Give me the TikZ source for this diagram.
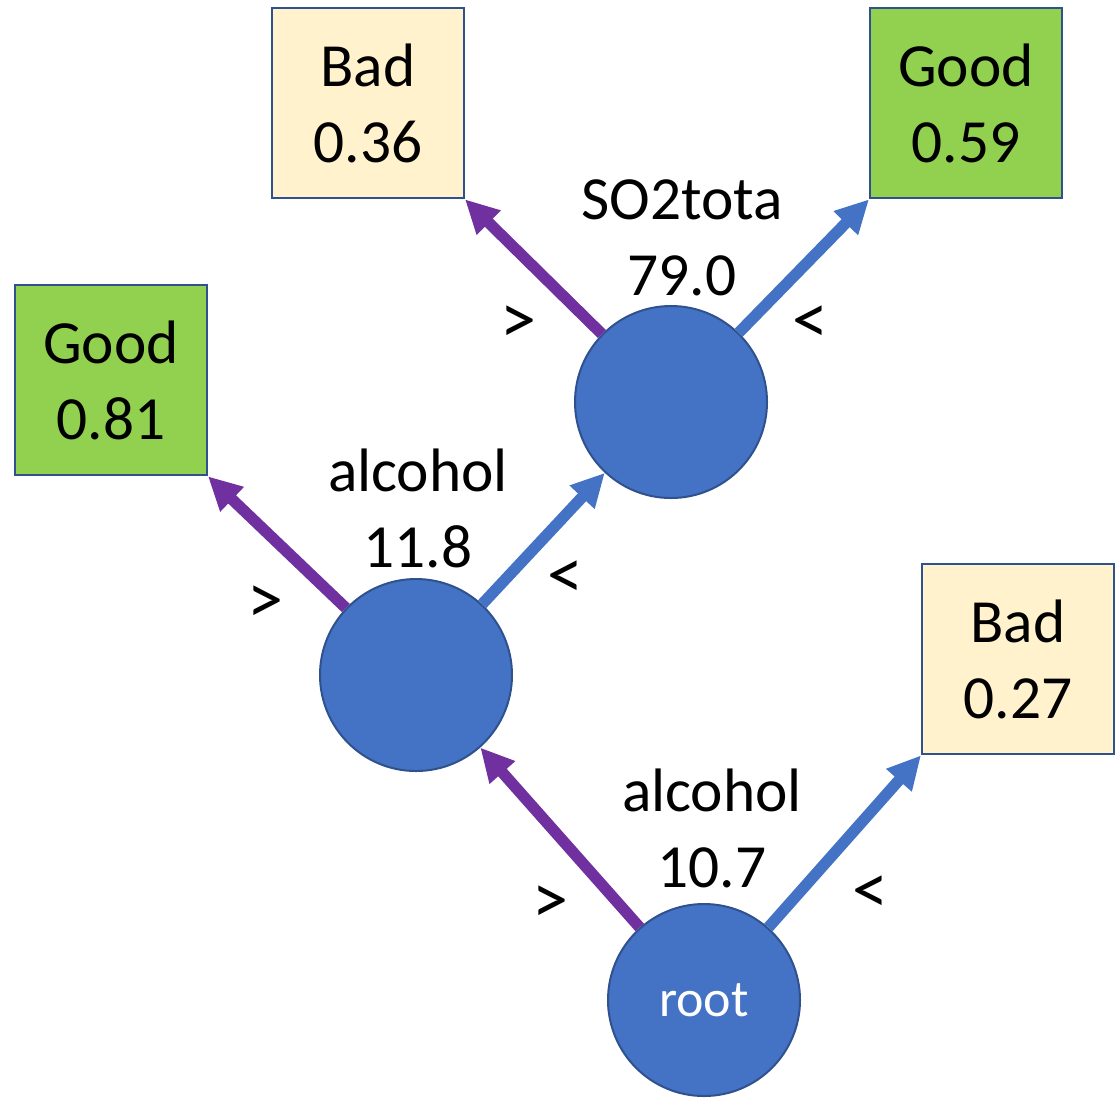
\documentclass[tikz,border=0pt]{standalone}
\usepackage{xcolor}
\usepackage{fontspec}
\setmainfont{Carlito}
\usepackage{tikz}
\usetikzlibrary{arrows.meta}

\definecolor{splitblue}{RGB}{68,114,196}
\definecolor{edgeline}{RGB}{47,82,143}
\definecolor{gtpurple}{RGB}{112,48,160}
\definecolor{goodgreen}{RGB}{146,208,80}
\definecolor{badcream}{RGB}{255,242,204}

\begin{document}
\begin{tikzpicture}[x=0.75pt,y=0.75pt,yscale=-1,xscale=1,
    split/.style={circle,draw=edgeline,line width=1.5pt,fill=splitblue,minimum size=144pt,inner sep=0pt,text=white,font=\fontsize{39}{44}\selectfont},
    leaf/.style={draw=edgeline,line width=1.5pt,minimum width=144pt,minimum height=143pt,inner sep=0pt,align=center,font=\fontsize{46}{57}\selectfont},
    good/.style={leaf,fill=goodgreen},
    bad/.style={leaf,fill=badcream},
    cond/.style={align=center,inner sep=0pt,font=\fontsize{46}{57}\selectfont},
    sign/.style={inner sep=0pt,font=\fontsize{54}{60}\selectfont},
    gtedge/.style={draw=gtpurple,line width=8.5pt,-{Triangle[length=25pt,width=24pt]}},
    ltedge/.style={draw=splitblue,line width=8.5pt,-{Triangle[length=25pt,width=24pt]}}]

        \useasboundingbox (0,0) rectangle (1119,1101);

        % split nodes
        \node [split] (root) at (704,1000) {root};
        \node [split] (alc) at (416,675) {};
        \node [split] (so2) at (671,402) {};

        % leaves
        \node [bad] (bad36) at (368,103) {Bad\\0.36};
        \node [good] (good59) at (966,103) {Good\\0.59};
        \node [good] (good81) at (111,380) {Good\\0.81};
        \node [bad] (bad27) at (1018,659) {Bad\\0.27};

        % conditions
        \node [cond] (condroot) at (712,828) {alcohol\\10.7};
        \node [cond] (condalc) at (418,508) {alcohol\\11.8};
        \node [cond] (condso2) at (682,238) {SO2tota\\79.0};

        \node [sign] (gtroot) at (550,905) {>};
        \node [sign] (ltroot) at (870,895) {<};
        \node [sign] (gtalc) at (265,605) {>};
        \node [sign] (ltalc) at (565,580) {<};
        \node [sign] (gtso2) at (518,325) {>};
        \node [sign] (ltso2) at (810,325) {<};

        % edges
        \draw [gtedge] (root) -- (alc);
        \draw [ltedge] (root) -- (bad27.south west);
        \draw [gtedge] (alc) -- (good81.south east);
        \draw [ltedge] (alc) -- (so2);
        \draw [gtedge] (so2) -- (bad36.south east);
        \draw [ltedge] (so2) -- (good59.south west);
    \end{tikzpicture}
\end{document}
